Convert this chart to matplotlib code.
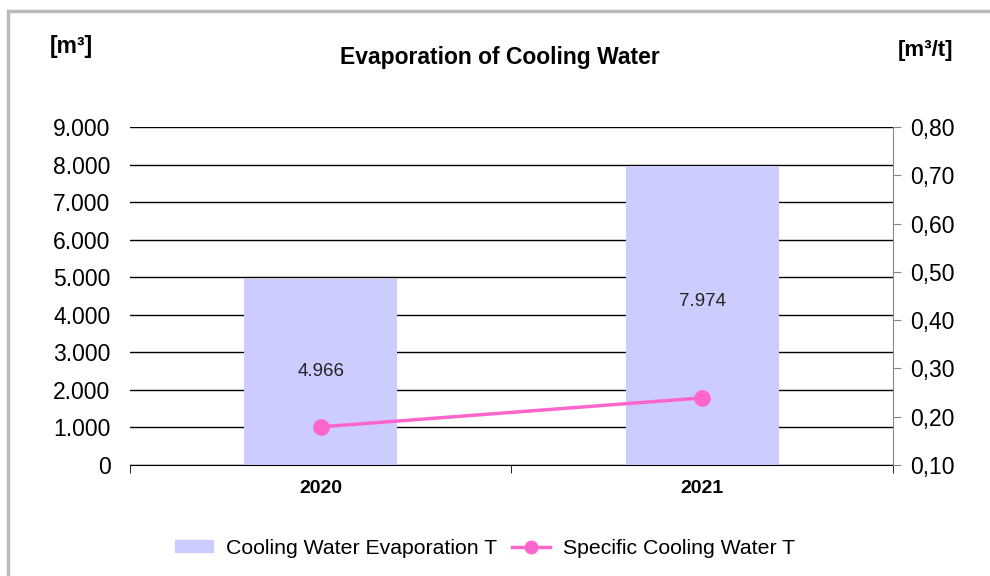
import matplotlib.pyplot as plt
import matplotlib.ticker as mticker
from matplotlib.patches import Rectangle

plt.rcParams['font.family'] = ['Liberation Sans', 'DejaVu Sans']

# data
years = ['2020', '2021']
evaporation = [4966, 7974]          # m3
specific = [0.179, 0.239]           # m3/t
label_pos = [0.50, 0.545]           # where the value label sits inside the bar

bar_color = '#CCCCFF'
line_color = '#FF66CC'

fig = plt.figure(figsize=(9.9, 5.76), dpi=100)
ax = fig.add_axes([0.1313, 0.1927, 0.9020 - 0.1313, 0.7795 - 0.1927])

x = list(range(len(years)))
ax.bar(x, evaporation, width=0.4, color=bar_color, zorder=2)
for xi, v, f in zip(x, evaporation, label_pos):
    ax.text(xi, v * f, f'{v:,}'.replace(',', '.'), ha='center', va='center',
            fontsize=13.5, color='#222222', zorder=3)

ax.set_xlim(-0.5, 1.5)
ax.set_ylim(0, 9000)
ax.set_yticks(range(0, 9001, 1000))
ax.yaxis.set_major_formatter(mticker.FuncFormatter(lambda v, p: f'{int(v):,}'.replace(',', '.')))
ax.grid(axis='y', color='black', linewidth=1)
ax.set_axisbelow(True)
ax.tick_params(axis='y', length=0, labelsize=16.5, pad=14)
ax.set_xticks(x)
ax.set_xticklabels(years, fontweight='bold', fontsize=14)
ax.set_xticks([-0.5, 0.5, 1.5], minor=True)
ax.tick_params(axis='x', which='major', length=0, pad=11)
ax.tick_params(axis='x', which='minor', length=6, color='black')
for s in ['left', 'top', 'right']:
    ax.spines[s].set_visible(False)
ax.spines['bottom'].set_color('black')

ax2 = ax.twinx()
ax2.plot(x, specific, color=line_color, linewidth=2.5, marker='o', markersize=11, zorder=5)
ax2.set_ylim(0.1, 0.8)
ax2.set_yticks([0.1 * i for i in range(1, 9)])
ax2.yaxis.set_major_formatter(mticker.FuncFormatter(lambda v, p: f'{v:.2f}'.replace('.', ',')))
ax2.tick_params(axis='y', length=6, color='#888888', labelsize=16.5, pad=6)
for s in ['left', 'top', 'bottom']:
    ax2.spines[s].set_visible(False)
ax2.spines['right'].set_color('#888888')

fig.text(0.505, 0.900, 'Evaporation of Cooling Water', ha='center', va='center',
         fontsize=16.5, fontweight='bold')
fig.text(0.072, 0.920, '[m³]', ha='center', va='center', fontsize=16.5, fontweight='bold')
fig.text(0.935, 0.913, '[m³/t]', ha='center', va='center', fontsize=16, fontweight='bold')

h1 = Rectangle((0, 0), 1, 1, color=bar_color)
h2 = plt.Line2D([], [], color=line_color, linewidth=2.5, marker='o', markersize=9)
fig.legend([h1, h2], ['Cooling Water Evaporation T', 'Specific Cooling Water T'],
           loc='center', bbox_to_anchor=(0.49, 0.048), ncol=2, frameon=False,
           fontsize=15.3, handlelength=1.8, handleheight=0.5, columnspacing=0.7,
           handletextpad=0.6)

fig.patches.append(Rectangle((8 / 990, -0.05), 1.1, 1 - 11 / 576 + 0.05,
                             transform=fig.transFigure, fill=False,
                             edgecolor='#BBBBBB', linewidth=2.5))

fig.savefig('out.png', dpi=100)
